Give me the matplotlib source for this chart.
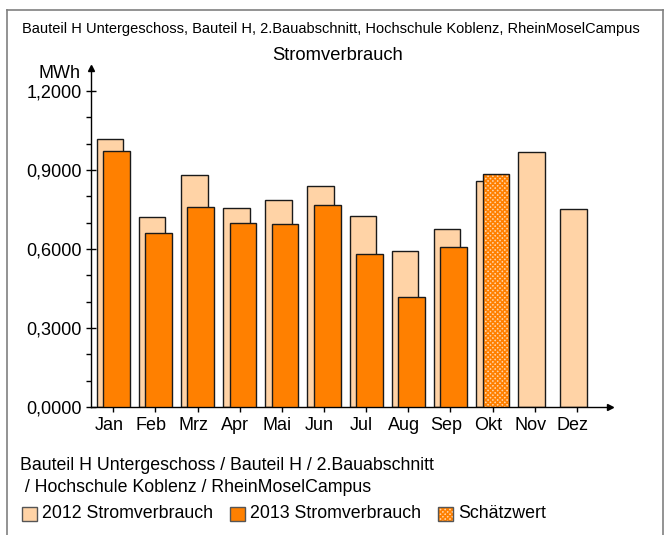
import matplotlib
matplotlib.use("Agg")
import matplotlib.pyplot as plt
import numpy as np
from matplotlib.patches import Rectangle
from matplotlib.lines import Line2D

plt.rcParams['font.family'] = ['Liberation Sans', 'DejaVu Sans']
plt.rcParams['hatch.linewidth'] = 1.2

months = ["Jan", "Feb", "Mrz", "Apr", "Mai", "Jun", "Jul", "Aug", "Sep", "Okt", "Nov", "Dez"]
values_2012 = [1.018, 0.722, 0.882, 0.755, 0.784, 0.838, 0.724, 0.592, 0.676, 0.858, 0.967, 0.751]
values_2013 = [0.972, 0.661, 0.760, 0.698, 0.695, 0.766, 0.579, 0.417, 0.607]
estimate_months = ["Okt"]
estimate_values = [0.884]
yticks = [0.0, 0.3, 0.6, 0.9, 1.2]
ytick_labels = ["0,0000", "0,3000", "0,6000", "0,9000", "1,2000"]

W, H = 668, 535
fig = plt.figure(figsize=(W / 100, H / 100), dpi=100)

# axes placement in pixels
x0, x1 = 91, 610
y0, y1 = 407, 68
ax = fig.add_axes([x0 / W, 1 - y0 / H, (x1 - x0) / W, (y0 - y1) / H])

light = "#FFD3A6"
dark = "#FF8000"
edge = "#1a1a1a"
bw = 0.631
off = 0.154
xi = np.arange(len(months))

ax.bar(xi, values_2012, width=bw, color=light, edgecolor=edge, linewidth=1.0, zorder=2)
ax.bar(xi[:len(values_2013)] + off, values_2013, width=bw, color=dark, edgecolor=edge,
       linewidth=1.0, zorder=3)
est_x = [months.index(m) + off for m in estimate_months]
ax.bar(est_x, estimate_values, width=bw, color=light, edgecolor=dark, hatch="xxxxxxx",
       linewidth=0, zorder=3)
ax.bar(est_x, estimate_values, width=bw, color="none", edgecolor=edge, linewidth=1.0, zorder=4)

ax.set_xlim((x0 - 110) / 42.15, (x1 - 110) / 42.15)
ax.set_ylim(0, (y0 - y1) / 263.5)

for s in ["top", "right"]:
    ax.spines[s].set_visible(False)
for s in ["left", "bottom"]:
    ax.spines[s].set_linewidth(1.0)
    ax.spines[s].set_color("#000000")

ax.set_yticks(yticks)
ax.set_yticklabels(ytick_labels, fontsize=13)
ax.set_yticks(np.arange(0, 1.21, 0.1), minor=True)
ax.tick_params(axis="y", which="major", direction="inout", length=7, width=1, pad=3)
ax.tick_params(axis="y", which="minor", direction="out", length=3.5, width=1)

ax.set_xticks(xi - 0.03)
ax.set_xticklabels(months, fontsize=13)
ax.set_xticks(xi + off / 2, minor=True)
ax.tick_params(axis="x", which="major", length=0, pad=7.5)
ax.tick_params(axis="x", which="minor", direction="out", length=3.5, width=1)

# arrows
ax.plot([0], [1], marker="^", color="black", markersize=4.5, transform=ax.transAxes, clip_on=False)
ax.plot([1], [0], marker=">", color="black", markersize=4.5, transform=ax.transAxes, clip_on=False)

fig.text(81 / W, 1 - 74 / H, "MWh", ha="right", va="center", fontsize=13)

# titles
fig.text(22 / W, 1 - 29 / H, "Bauteil H Untergeschoss, Bauteil H, 2.Bauabschnitt, Hochschule Koblenz, RheinMoselCampus",
         ha="left", va="center", fontsize=10.5)
fig.text(338 / W, 1 - 55 / H, "Stromverbrauch", ha="center", va="center", fontsize=13.2)

# bottom text
fig.text(20 / W, 1 - 466 / H, "Bauteil H Untergeschoss / Bauteil H / 2.Bauabschnitt",
         ha="left", va="center", fontsize=12.8)
fig.text(20 / W, 1 - 487 / H, " / Hochschule Koblenz / RheinMoselCampus",
         ha="left", va="center", fontsize=12.8)

# legend
leg_y = 514
items = [(22, light, None, "2012 Stromverbrauch"),
         (230, dark, None, "2013 Stromverbrauch"),
         (438, light, "xxxxxxx", "Schätzwert")]
for lx, col, hatch, lab in items:
    if hatch:
        r = Rectangle((lx / W, 1 - (leg_y + 7) / H), 15 / W, 14 / H, transform=fig.transFigure,
                      facecolor=col, edgecolor=dark, hatch=hatch, linewidth=0)
        fig.patches.append(r)
        r2 = Rectangle((lx / W, 1 - (leg_y + 7) / H), 15 / W, 14 / H, transform=fig.transFigure,
                       facecolor="none", edgecolor="#555555", linewidth=1)
        fig.patches.append(r2)
    else:
        r = Rectangle((lx / W, 1 - (leg_y + 7) / H), 15 / W, 14 / H, transform=fig.transFigure,
                      facecolor=col, edgecolor="#555555", linewidth=1)
        fig.patches.append(r)
    fig.text((lx + 20) / W, 1 - leg_y / H, lab, ha="left", va="center", fontsize=12.8)

# frame
frame_col = "#808080"
fig.lines.append(Line2D([7 / W, 7 / W], [0, 1 - 10 / H], transform=fig.transFigure, color=frame_col, lw=1.2))
fig.lines.append(Line2D([7 / W, 663 / W], [1 - 10 / H, 1 - 10 / H], transform=fig.transFigure, color=frame_col, lw=1.2))
fig.lines.append(Line2D([663 / W, 663 / W], [0, 1 - 10 / H], transform=fig.transFigure, color=frame_col, lw=1.2))

fig.savefig("out.png", dpi=100)
